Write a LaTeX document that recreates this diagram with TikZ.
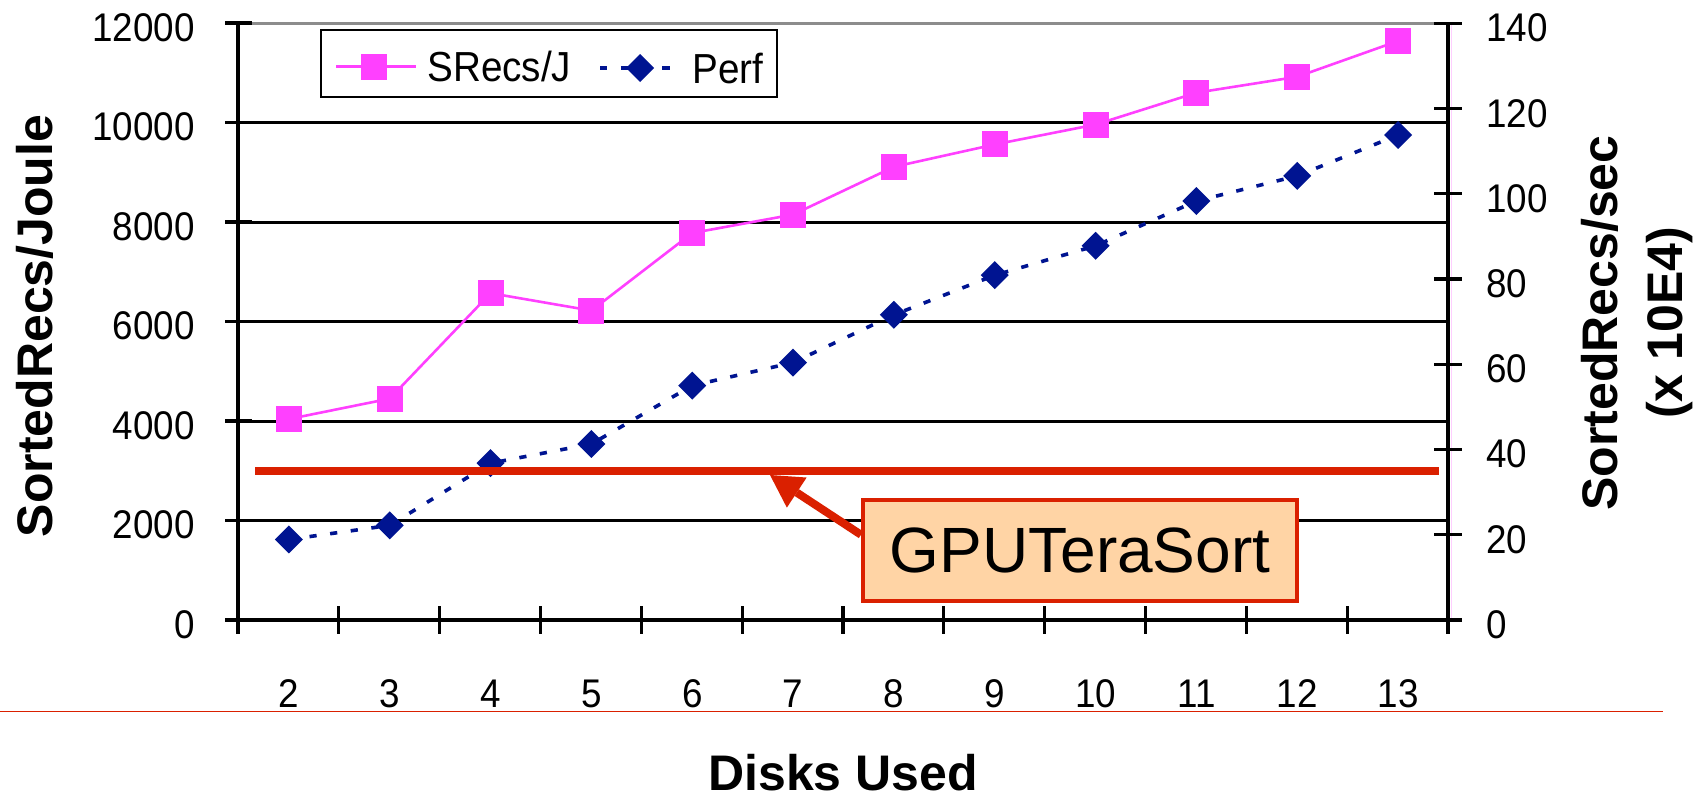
\documentclass[tikz,border=0pt]{standalone}
\usepackage{fontspec}
\setmainfont{Liberation Sans}
\newfontfamily\narrowsans[FakeStretch=0.92]{Liberation Sans}
\usetikzlibrary{arrows.meta,calc}

\definecolor{srecs}{RGB}{255,64,255}
\definecolor{perf}{RGB}{0,20,145}
\definecolor{hilite}{RGB}{218,32,0}
\definecolor{peach}{RGB}{255,212,165}
\definecolor{gridgray}{RGB}{140,140,140}

\begin{document}
\begin{tikzpicture}[x=0.5pt,y=-0.5pt,
  ticklabel/.style={font={\narrowsans\fontsize{20}{24}\selectfont}, inner sep=0pt},
  legendlabel/.style={font={\narrowsans\fontsize{21}{25}\selectfont}, inner sep=0pt},
  axtitle/.style={font={\bfseries\fontsize{25}{30}\selectfont}, inner sep=0pt},
  gridline/.style={line width=1.5pt},
  axisline/.style={line width=1.6pt},
  srecsline/.style={draw=srecs, line width=1.3pt},
  perfline/.style={draw=perf, line width=1.8pt, dash pattern=on 3.6pt off 6.8pt},
  callout/.style={draw=hilite, line width=2pt, fill=peach,
    font={\fontsize{32}{38}\selectfont}, minimum width=217pt,
    minimum height=50.5pt, inner sep=0pt},
  pointer/.style={draw=hilite, line width=4pt,
    -{Triangle[length=16pt,width=18pt,line width=0pt]}},
]
\useasboundingbox (0,0) rectangle (1703,798);

% horizontal grid
\draw[gridline, gridgray] (238,23) -- (1448,23);
\foreach \v in {2000,4000,...,10000}
  \draw[gridline] (238,{620-0.04975*\v}) -- (1448,{620-0.04975*\v});

% faint secondary axis line
\draw[srecs!25, line width=0.5pt] (1451,23) -- (1451,620);

% axes and ticks
\draw[axisline] (238,23) -- (238,634);
\draw[axisline] (1448,23) -- (1448,634);
\draw[axisline] (238,620) -- (1448,620);
\foreach \v in {0,2000,...,12000}
  \draw[axisline] (225,{620-0.04975*\v}) -- (252,{620-0.04975*\v});
\foreach \v in {0,20,...,140}
  \draw[axisline] (1434,{620-4.262*\v}) -- (1462,{620-4.262*\v});
\foreach \k in {0,...,12}
  \draw[axisline] ({238+100.83*\k},606) -- ({238+100.83*\k},634);

% tick labels
\foreach \v in {0,2000,...,12000}
  \node[ticklabel, anchor=east] (yl\v) at (195,{624.5-0.04975*\v}) {\v};
\foreach \v in {0,20,...,140}
  \node[ticklabel, anchor=west] (yr\v) at (1486,{624.7-4.262*\v}) {\v};
\foreach \i in {2,...,13}
  \node[ticklabel] (xl\i) at ({87.25+100.83*\i},694) {\i};

% axis titles
\node[axtitle, rotate=90, anchor=base] (ytitle) at (52,326) {SortedRecs/Joule};
\node[axtitle, rotate=90, anchor=base] (y2title) at (1617,323) {SortedRecs/sec};
\node[axtitle, rotate=90, anchor=base] (y2unit) at (1682,323) {(x 10E4)};
\node[axtitle] (xtitle) at (843,773) {Disks Used};

% SRecs/J series (left axis)
\begin{scope}[shift={(87.25,620)}, x=50.415pt, y=0.024875pt]
  \draw[srecsline] plot coordinates {(2,4040) (3,4450) (4,6570) (5,6220)
    (6,7780) (7,8150) (8,9110) (9,9560) (10,9960) (11,10600) (12,10920) (13,11640)};
  \foreach \i/\v in {2/4040,3/4450,4/6570,5/6220,6/7780,7/8150,8/9110,
      9/9560,10/9960,11/10600,12/10920,13/11640}
    \fill[srecs] (\i,\v) +(-6.5pt,-6.5pt) rectangle +(6.5pt,6.5pt);
\end{scope}

% Perf series (right axis)
\begin{scope}[shift={(87.25,620)}, x=50.415pt, y=2.131pt]
  \draw[perfline] plot coordinates {(2,18.9) (3,22.2) (4,36.8) (5,41.3)
    (6,55.0) (7,60.4) (8,71.6) (9,80.9) (10,87.8) (11,98.3) (12,104.2) (13,113.8)};
  \foreach \i/\v in {2/18.9,3/22.2,4/36.8,5/41.3,6/55.0,7/60.4,8/71.6,
      9/80.9,10/87.8,11/98.3,12/104.2,13/113.8}
    \fill[perf] (\i,\v) +(0pt,7pt) -- +(7pt,0pt) -- +(0pt,-7pt) -- +(-7pt,0pt) -- cycle;
\end{scope}

% GPUTeraSort level and callout
\draw[hilite, line width=4pt] (255,470.75) -- (1439,470.75);
\node[callout] (gpu) at (1080,550.5) {GPUTeraSort};
\coordinate (gputip) at (770,475);
\draw[pointer] ($(gpu.north west)!0.35!(gpu.south west)$) -- (gputip);

% legend
\draw[line width=1.35pt, fill=white] (321,30) rectangle (777,97);
\draw[srecsline] (336,66.5) -- (416,66.5);
\fill[srecs] (361,53.5) rectangle (387,79.5);
\node[legendlabel, anchor=base west] (lgsrecs) at (427,81.5) {SRecs/J};
\draw[perfline] (600,68) -- (670,68);
\fill[perf] (640,54) -- (654,68) -- (640,82) -- (626,68) -- cycle;
\node[legendlabel, anchor=base west] (lgperf) at (692,83.3) {Perf};

% rule under the chart
\draw[hilite, line width=0.6pt] (0,711.7) -- (1663,711.7);
\end{tikzpicture}
\end{document}
